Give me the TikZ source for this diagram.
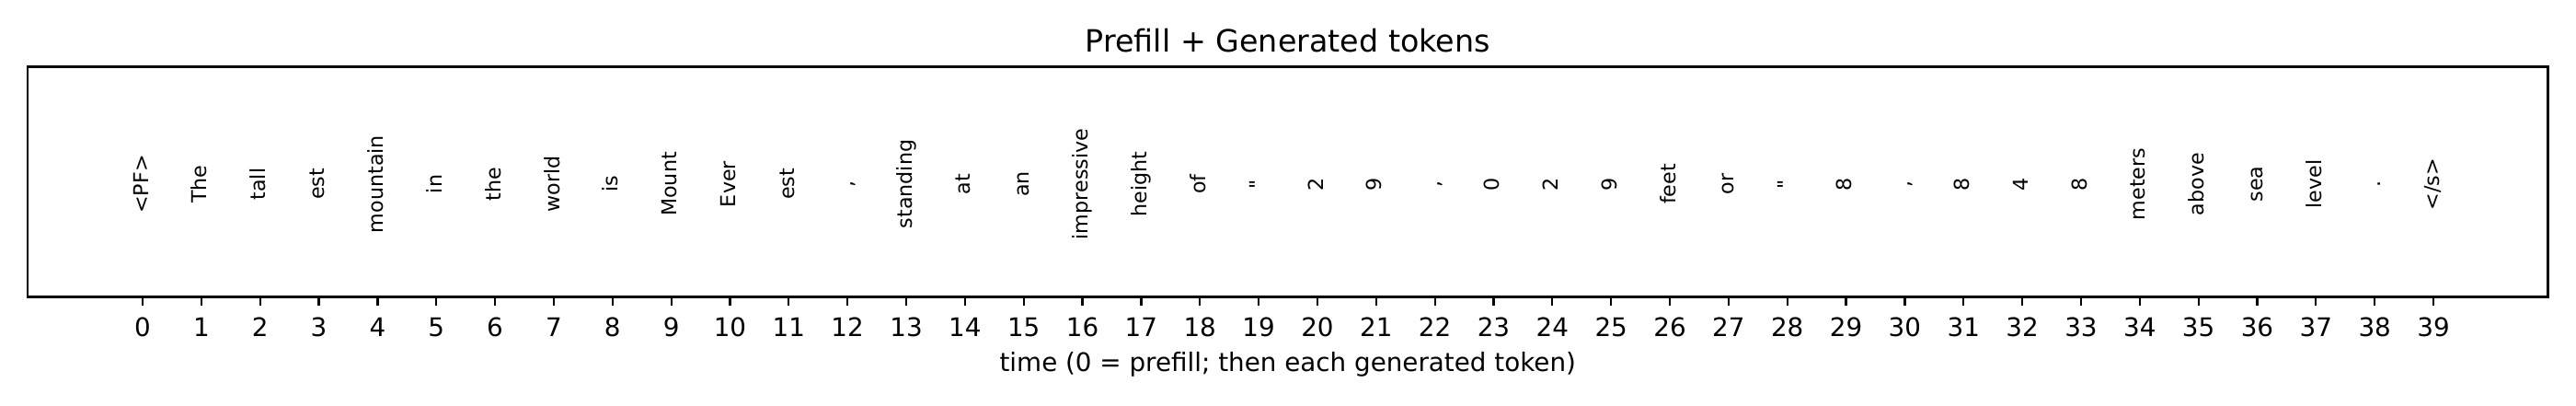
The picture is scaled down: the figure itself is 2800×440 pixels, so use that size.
\documentclass[tikz,border=0pt]{standalone}
\usepackage{fontspec}
\setmainfont{DejaVu Sans}[Ligatures=TeXOff]
\usetikzlibrary{positioning}

\begin{document}
\begin{tikzpicture}[
            x=0.36bp,
            y=-0.36bp,
            axis line/.style={line width=0.8bp,line join=miter},
            token label/.style={rotate=90,inner sep=0pt,font=\fontsize{8bp}{9.6bp}\selectfont,text height=6.1bp,text depth=1.7bp},
            tick label/.style={anchor=base,inner sep=0pt,font=\fontsize{10bp}{12bp}\selectfont},
            title label/.style={anchor=base,inner sep=0pt,font=\fontsize{12bp}{14.4bp}\selectfont}
        ]
            \useasboundingbox (0,0) rectangle (2800,440);

            \node[title label] (title) at (1399.75,56) {Prefill + Generated tokens};
            \draw[axis line] (30,72.5) rectangle (2769.5,322.5);

            \foreach \tok [count=\i from 0] in {<PF>,The,tall,est,mountain,in,the,world,is,Mount,Ever,est,{,},standing,at,an,impressive,height,of,",2,9,{,},0,2,9,feet,or,",8,{,},8,4,8,meters,above,sea,level,{.},</s>}{
                \node[token label] (tok\i) at ({155+63.846*\i},200) {\tok};
                \coordinate (tick\i) at ({155+63.846*\i},322.5);
                \draw[axis line] (tick\i) -- ++(0,9.7);
                \node[tick label] (lab\i) at ({155+63.846*\i},365) {\i};
            }

            \node[tick label] (xlabel) at (1399.75,403.3) {time (0 = prefill; then each generated token)};
        \end{tikzpicture}
\end{document}
